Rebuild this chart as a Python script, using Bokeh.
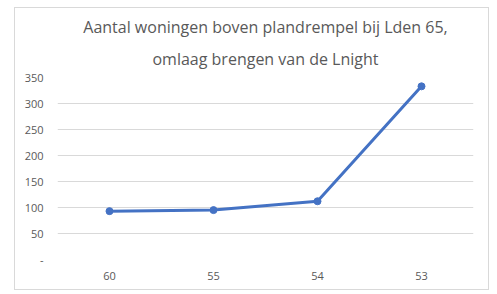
from bokeh.plotting import figure
from bokeh.models import Range1d, FixedTicker, Title
from bokeh.embed import file_html
from bokeh.resources import INLINE

categories = ["60", "55", "54", "53"]
values = [93, 95, 112, 333]
y_ticks = [0, 50, 100, 150, 200, 250, 300, 350]
title_lines = ["Aantal woningen boven plandrempel bij Lden 65,", "omlaag brengen van de Lnight"]

p = figure(width=473, height=281, x_range=categories, y_range=Range1d(0, 350),
           output_backend="svg", toolbar_location=None,
           min_border_left=42, min_border_right=15, min_border_top=10, min_border_bottom=30)
p.margin = (8, 0, 0, 15)
p.styles = {"outline": "1px solid #d9d9d9"}
p.outline_line_color = None
p.background_fill_color = "white"
p.border_fill_color = "white"

font = "Open Sans"
t2 = Title(text=title_lines[1], align="center", text_font=font,
           text_font_size="16px", text_font_style="normal", text_color="#595959",
           text_line_height=0.8, standoff=16)
t1 = Title(text=title_lines[0], align="center", text_font=font,
           text_font_size="16px", text_font_style="normal", text_color="#595959",
           text_line_height=0.8, standoff=0)
t0 = Title(text=" ", align="center", text_font=font, text_font_size="2px",
           standoff=0)
p.add_layout(t2, "above")
p.add_layout(t1, "above")
p.add_layout(t0, "above")

p.line(categories, values, line_color="#4472C4", line_width=3)
p.scatter(categories, values, size=7, fill_color="#4472C4", line_color="#4472C4")

p.yaxis.ticker = FixedTicker(ticks=y_ticks)
p.yaxis.major_label_overrides = {0: "-"}
for ax in (p.xaxis, p.yaxis):
    ax.axis_line_color = None
    ax.major_tick_line_color = None
    ax.minor_tick_line_color = None
    ax.major_label_text_color = "#595959"
    ax.major_label_text_font = font
    ax.major_label_text_font_size = "11px"
p.yaxis.major_label_standoff = 8
p.xaxis.major_label_standoff = 6
p.xgrid.grid_line_color = None
p.ygrid.grid_line_color = "#d9d9d9"
p.ygrid.grid_line_width = 1

open("out.html", "w").write(file_html(p, INLINE))
